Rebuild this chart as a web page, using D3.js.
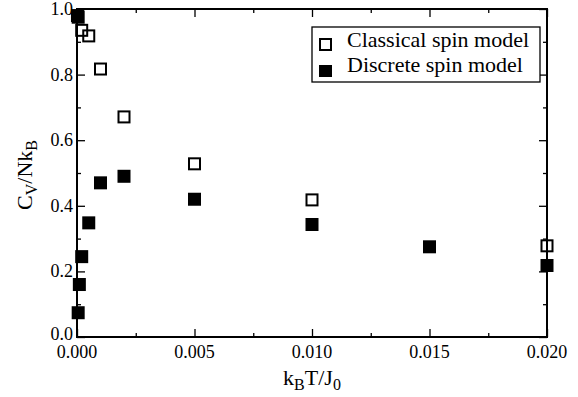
<!DOCTYPE html>
<html><head><meta charset="utf-8">
<script src="https://cdn.jsdelivr.net/npm/d3@7"></script>
<style>body{margin:0;background:#fff}svg{display:block}</style>
</head><body>
<script>
const classicalX = [0.00005, 0.0002, 0.0005, 0.001, 0.002, 0.005, 0.010, 0.020];
const classicalY = [0.975, 0.935, 0.918, 0.817, 0.671, 0.528, 0.418, 0.278];
const discreteX = [0.00002, 0.00005, 0.0001, 0.0002, 0.0005, 0.001, 0.002, 0.005, 0.010, 0.015, 0.020];
const discreteY = [0.980, 0.074, 0.160, 0.245, 0.348, 0.470, 0.490, 0.420, 0.343, 0.275, 0.218];
const xTicks = [0, 0.005, 0.010, 0.015, 0.020];
const xTickLabels = ["0.000", "0.005", "0.010", "0.015", "0.020"];
const yTicks = [0, 0.2, 0.4, 0.6, 0.8, 1.0];
const yTickLabels = ["0.0", "0.2", "0.4", "0.6", "0.8", "1.0"];
const legendLabels = ["Classical spin model", "Discrete spin model"];

const FONT = "Liberation Serif, DejaVu Serif, serif";
const W = 578, H = 397;
const m = {l: 77, r: 547, t: 9, b: 337};
const svg = d3.select("body").append("svg").attr("width", W).attr("height", H)
  .style("font-family", FONT);
const x = d3.scaleLinear().domain([0, 0.02]).range([m.l, m.r]);
const y = d3.scaleLinear().domain([0, 1]).range([m.b, m.t]);

const xMinor = d3.range(0, 0.02001, 0.0025);
const yMinor = d3.range(0, 1.0001, 0.1);

const g = svg.append("g");
function axis(axisFn, scale, ticks, len, transform) {
  const a = g.append("g").attr("transform", transform)
    .call(axisFn(scale).tickValues(ticks).tickSize(len).tickFormat(""));
  a.select(".domain").remove();
  a.selectAll("line").attr("stroke", "#000").attr("stroke-width", 1.3);
}
const notMajor = (arr, maj) => arr.filter(v => !maj.some(t => Math.abs(t - v) < 1e-9));
axis(d3.axisTop, x, xTicks, 8, `translate(0,${m.b})`);
axis(d3.axisTop, x, notMajor(xMinor, xTicks), 4, `translate(0,${m.b})`);
axis(d3.axisBottom, x, xTicks, 8, `translate(0,${m.t})`);
axis(d3.axisBottom, x, notMajor(xMinor, xTicks), 4, `translate(0,${m.t})`);
axis(d3.axisRight, y, yTicks, 8, `translate(${m.l},0)`);
axis(d3.axisRight, y, notMajor(yMinor, yTicks), 4, `translate(${m.l},0)`);
axis(d3.axisLeft, y, yTicks, 8, `translate(${m.r},0)`);
axis(d3.axisLeft, y, notMajor(yMinor, yTicks), 4, `translate(${m.r},0)`);

svg.append("rect").attr("x", m.l).attr("y", m.t).attr("width", m.r - m.l).attr("height", m.b - m.t)
  .attr("fill", "none").attr("stroke", "#000").attr("stroke-width", 2);

svg.append("g").selectAll("text").data(xTicks).join("text")
  .style("font-family", FONT)
  .attr("x", d => x(d)).attr("y", m.b + 21).attr("text-anchor", "middle")
  .attr("font-size", 18).text((d, i) => xTickLabels[i]);
svg.append("g").selectAll("text").data(yTicks).join("text")
  .style("font-family", FONT)
  .attr("x", m.l - 4).attr("y", (d, i) => y(d) + (i === 0 ? 3 : 6)).attr("text-anchor", "end")
  .attr("font-size", 18).text((d, i) => yTickLabels[i]);

const xt = svg.append("text").style("font-family", FONT).attr("x", 312).attr("y", 385).attr("text-anchor", "middle").attr("font-size", 22);
xt.append("tspan").text("k");
xt.append("tspan").attr("font-size", 16).attr("dy", 5).text("B");
xt.append("tspan").attr("dy", -5).text("T/J");
xt.append("tspan").attr("font-size", 16).attr("dy", 5).text("0");

const yt = svg.append("text").style("font-family", FONT).attr("transform", "translate(32,175) rotate(-90)").attr("text-anchor", "middle").attr("font-size", 22);
yt.append("tspan").text("C");
yt.append("tspan").attr("font-size", 16).attr("dy", 5).text("V");
yt.append("tspan").attr("dy", -5).text("/Nk");
yt.append("tspan").attr("font-size", 16).attr("dy", 5).text("B");

const s = 13;
const disc = discreteX.map((v, i) => [v, discreteY[i]]);
const clas = classicalX.map((v, i) => [v, classicalY[i]]);
svg.append("g").selectAll("rect").data(disc).join("rect")
  .attr("x", d => x(d[0]) - s / 2).attr("y", d => y(d[1]) - s / 2)
  .attr("width", s).attr("height", s).attr("fill", "#000");
svg.append("g").selectAll("rect").data(clas).join("rect")
  .attr("x", d => x(d[0]) - (s - 2) / 2).attr("y", d => y(d[1]) - (s - 2) / 2)
  .attr("width", s - 2).attr("height", s - 2).attr("fill", "none")
  .attr("stroke", "#000").attr("stroke-width", 2);

const lg = svg.append("g");
lg.append("rect").attr("x", 312).attr("y", 27).attr("width", 228).attr("height", 55)
  .attr("fill", "#fff").attr("stroke", "#000").attr("stroke-width", 1.3);
lg.append("rect").attr("x", 320).attr("y", 39).attr("width", 11).attr("height", 11)
  .attr("fill", "none").attr("stroke", "#000").attr("stroke-width", 2);
lg.append("rect").attr("x", 319).attr("y", 65).attr("width", 13).attr("height", 12).attr("fill", "#000");
lg.selectAll("text.l").data(legendLabels).join("text").attr("class", "l")
  .style("font-family", FONT)
  .attr("x", 347).attr("y", (d, i) => 47 + i * 25).attr("font-size", 22).text(d => d);
</script>
</body></html>
